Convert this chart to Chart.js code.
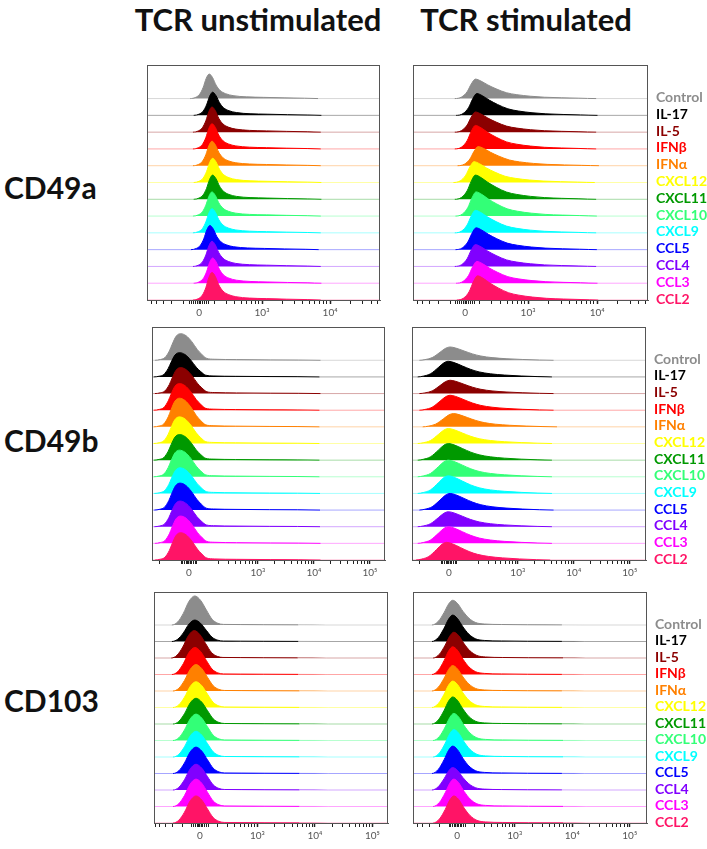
<!DOCTYPE html>
<html>
<head>
<meta charset="utf-8">
<script src="https://cdn.jsdelivr.net/npm/chart.js@4.4.1/dist/chart.umd.min.js"></script>
<style>
  body { margin: 0; background: #fff; width: 707px; height: 849px; position: relative; overflow: hidden; font-family: Lato, 'Open Sans', sans-serif; }
  .title { position: absolute; top: 0px; font-weight: bold; font-size: 31px; color: #111; white-space: nowrap; transform: translateX(-50%); }
  .row { position: absolute; left: 4px; font-weight: bold; font-size: 30px; color: #111; transform: translateY(-50%); }
  canvas { position: absolute; }
</style>
</head>
<body>
<div class="title" style="left:258px">TCR unstimulated</div>
<div class="title" style="left:526px">TCR stimulated</div>
<div class="row" style="top:187px">CD49a</div>
<div class="row" style="top:440px">CD49b</div>
<div class="row" style="top:700px">CD103</div>

<canvas id="c0"></canvas>
<canvas id="c1"></canvas>
<canvas id="c2"></canvas>
<canvas id="c3"></canvas>
<canvas id="c4"></canvas>
<canvas id="c5"></canvas>

<script>
// --- dados ---
const conditions = ['Control', 'IL-17', 'IL-5', 'IFNβ', 'IFNα', 'CXCL12', 'CXCL11', 'CXCL10', 'CXCL9', 'CCL5', 'CCL4', 'CCL3', 'CCL2'];
const conditionColors = ['#8c8c8c', '#000000', '#8b0000', '#ff0000', '#ff8000', '#ffff00', '#009900', '#33ff77', '#00ffff', '#0000ff', '#8000ff', '#ff00ff', '#ff1466'];

const tickLabelsShort = ['0', '10³', '10⁴'];
const tickLabelsLong = ['0', '10³', '10⁴', '10⁵'];

// peak position (display decades) and peak height (row units) for each condition
const cd49aUnstimPeak = [0.15, 0.20, 0.19, 0.19, 0.19, 0.20, 0.20, 0.19, 0.19, 0.16, 0.19, 0.20, 0.19];
const cd49aUnstimHeight = [1.46, 1.38, 1.50, 1.50, 1.46, 1.44, 1.44, 1.44, 1.44, 1.44, 1.50, 1.50, 1.64];
const cd49aStimPeak = [0.15, 0.17, 0.15, 0.15, 0.19, 0.13, 0.15, 0.16, 0.15, 0.16, 0.15, 0.17, 0.18];
const cd49aStimHeight = [1.16, 1.30, 1.20, 1.40, 1.14, 1.24, 1.44, 1.44, 1.34, 1.30, 1.30, 1.30, 1.44];
const cd49bUnstimPeak = [-0.15, -0.17, -0.15, -0.17, -0.17, -0.17, -0.17, -0.17, -0.16, -0.16, -0.16, -0.15, -0.15];
const cd49bUnstimHeight = [1.60, 1.46, 1.56, 1.60, 1.72, 1.60, 1.54, 1.60, 1.54, 1.62, 1.54, 1.64, 1.64];
const cd49bStimPeak = [0.02, -0.01, 0.02, 0.02, 0.08, -0.01, -0.01, -0.01, -0.01, 0.02, -0.01, -0.01, -0.04];
const cd49bStimHeight = [0.80, 0.94, 0.80, 0.90, 0.80, 0.90, 1.00, 1.00, 1.06, 1.00, 0.90, 1.00, 1.06];
const cd103UnstimPeak = [-0.09, -0.09, -0.10, -0.09, -0.07, -0.07, -0.07, -0.07, -0.07, -0.07, -0.07, -0.07, -0.07];
const cd103UnstimHeight = [1.76, 1.30, 1.66, 1.64, 1.60, 1.56, 1.56, 1.60, 1.56, 1.60, 1.56, 1.66, 1.64];
const cd103StimPeak = [-0.08, -0.08, -0.06, -0.08, -0.08, -0.08, -0.08, -0.06, -0.06, -0.08, -0.08, -0.06, -0.06];
const cd103StimHeight = [1.50, 1.60, 1.56, 1.68, 1.54, 1.60, 1.64, 1.64, 1.66, 1.66, 1.36, 1.66, 1.64];

// histogram shape around the peak (offset in decades, fraction of peak height)
const cd49aUnstimShapeX = [-0.28, -0.2, -0.14, -0.09, -0.045, 0, 0.05, 0.1, 0.16, 0.24, 0.35, 0.55, 0.8, 1.1, 1.4, 1.6];
const cd49aUnstimShapeY = [0, 0.05, 0.18, 0.45, 0.82, 1, 0.85, 0.55, 0.33, 0.2, 0.12, 0.07, 0.05, 0.03, 0.015, 0];
const cd49aStimShapeX = [-0.3, -0.2, -0.12, -0.06, 0, 0.08, 0.18, 0.3, 0.45, 0.6, 0.8, 1.0, 1.25, 1.5, 1.75];
const cd49aStimShapeY = [0, 0.08, 0.35, 0.75, 1, 0.9, 0.7, 0.5, 0.3, 0.2, 0.12, 0.07, 0.04, 0.02, 0];
const cd49bUnstimShapeX = [-0.46, -0.36, -0.28, -0.2, -0.15, -0.08, 0, 0.1, 0.2, 0.3, 0.38, 0.47, 0.6, 1.0, 1.6, 2.1, 2.5];
const cd49bUnstimShapeY = [0, 0.03, 0.1, 0.35, 0.6, 0.9, 1, 0.92, 0.7, 0.4, 0.22, 0.07, 0.04, 0.025, 0.015, 0.01, 0];
const cd49bStimShapeX = [-0.55, -0.45, -0.32, -0.18, -0.08, 0, 0.1, 0.25, 0.4, 0.55, 0.75, 1.0, 1.3, 1.6, 1.85];
const cd49bStimShapeY = [0, 0.05, 0.2, 0.6, 0.9, 1, 0.92, 0.7, 0.48, 0.32, 0.2, 0.12, 0.06, 0.02, 0];
const cd103UnstimShapeX = [-0.4, -0.3, -0.2, -0.1, 0, 0.1, 0.2, 0.3, 0.4, 0.5, 0.8, 1.2, 1.8, 2.3];
const cd103UnstimShapeY = [0, 0.1, 0.4, 0.82, 1, 0.85, 0.52, 0.2, 0.06, 0.02, 0.015, 0.01, 0.005, 0];
const cd103StimShapeX = [-0.36, -0.25, -0.15, -0.07, 0, 0.08, 0.18, 0.28, 0.4, 0.55, 0.85, 1.3, 1.9, 2.3];
const cd103StimShapeY = [0, 0.15, 0.5, 0.85, 1, 0.88, 0.55, 0.28, 0.1, 0.04, 0.02, 0.01, 0.005, 0];

// --- painéis: posição do quadro e eixo ---
const panels = [
  { id: 'c0', frame: [147, 65, 380, 300], xmin: -0.765, xmax: 2.66, majors: [0, 0.926, 1.926], labels: tickLabelsShort,
    peak: cd49aUnstimPeak, height: cd49aUnstimHeight, sx: cd49aUnstimShapeX, sy: cd49aUnstimShapeY, legend: false },
  { id: 'c1', frame: [413, 65, 648, 300], xmin: -0.754, xmax: 2.65, majors: [0, 0.913, 1.913], labels: tickLabelsShort,
    peak: cd49aStimPeak, height: cd49aStimHeight, sx: cd49aStimShapeX, sy: cd49aStimShapeY, legend: true },
  { id: 'c2', frame: [152, 327, 385, 560], xmin: -0.66, xmax: 3.5, majors: [0, 1.23, 2.23, 3.23], labels: tickLabelsLong,
    peak: cd49bUnstimPeak, height: cd49bUnstimHeight, sx: cd49bUnstimShapeX, sy: cd49bUnstimShapeY, legend: false },
  { id: 'c3', frame: [412, 327, 646, 560], xmin: -0.66, xmax: 3.52, majors: [0, 1.23, 2.23, 3.23], labels: tickLabelsLong,
    peak: cd49bStimPeak, height: cd49bStimHeight, sx: cd49bStimShapeX, sy: cd49bStimShapeY, legend: true },
  { id: 'c4', frame: [154, 592, 388, 823], xmin: -0.8, xmax: 3.27, majors: [0, 1, 2, 3], labels: tickLabelsLong,
    peak: cd103UnstimPeak, height: cd103UnstimHeight, sx: cd103UnstimShapeX, sy: cd103UnstimShapeY, legend: false },
  { id: 'c5', frame: [413, 592, 647, 823], xmin: -0.77, xmax: 3.3, majors: [0, 1, 2, 3], labels: tickLabelsLong,
    peak: cd103StimPeak, height: cd103StimHeight, sx: cd103StimShapeX, sy: cd103StimShapeY, legend: true },
];

const ROWS = conditions.length;
const YMAX = 14;
const PAD = 2;
const AXIS_H = 26;
const PAGE_W = 707;

function fade(hex, a) {
  const n = parseInt(hex.slice(1), 16);
  return `rgba(${(n >> 16) & 255}, ${(n >> 8) & 255}, ${n & 255}, ${a})`;
}

// ticks menores do eixo biexponencial
function buildTicks(p) {
  const ticks = [];
  const dec = p.majors.length > 2 ? p.majors[2] - p.majors[1] : 1;
  p.majors.forEach((v, i) => ticks.push({ value: v, major: true, label: p.labels[i] }));
  // aglomerado linear perto de 0
  [-0.14, -0.11, -0.08, -0.05, -0.025, 0.025, 0.05, 0.08, 0.11, 0.14].forEach(v => ticks.push({ value: v }));
  // décadas
  for (let d = -1; d < p.majors.length; d++) {
    const start = d < 1 ? p.majors[1] - dec : p.majors[d];
    if (d !== -1 && d < 1) continue;
    for (let k = 2; k <= 9; k++) {
      const v = start + Math.log10(k) * dec;
      if (v > 0.2 && v < p.xmax) ticks.push({ value: v });
      if (d === -1 && -v > p.xmin && v > 0.2) ticks.push({ value: -v });
    }
  }
  return ticks.sort((a, b) => a.value - b.value);
}

const framePlugin = {
  id: 'frame',
  afterDatasetsDraw(chart) {
    const a = chart.chartArea;
    const ctx = chart.ctx;
    ctx.save();
    ctx.strokeStyle = '#555';
    ctx.lineWidth = 1;
    ctx.strokeRect(Math.round(a.left) + 0.5, Math.round(a.top) + 0.5, Math.round(a.width) - 1, Math.round(a.height));
    ctx.restore();
  },
};

const legendPlugin = {
  id: 'sideLabels',
  afterDraw(chart, args, opts) {
    if (!opts.show) return;
    const ctx = chart.ctx;
    const y = chart.scales.y;
    ctx.save();
    ctx.font = 'bold 14px Lato, "Open Sans", sans-serif';
    ctx.textBaseline = 'middle';
    conditions.forEach((name, i) => {
      ctx.fillStyle = conditionColors[i];
      ctx.fillText(name, chart.chartArea.right + 8, y.getPixelForValue(ROWS - 1 - i) - 1);
    });
    ctx.restore();
  },
};

panels.forEach(p => {
  const [l, t, r, b] = p.frame;
  const canvas = document.getElementById(p.id);
  const rightPad = p.legend ? PAGE_W - r : PAD;
  const w = (r - l) + PAD + rightPad;
  const h = (b - t) + PAD + AXIS_H;
  canvas.width = w;
  canvas.height = h;
  canvas.style.left = (l - PAD) + 'px';
  canvas.style.top = (t - PAD) + 'px';

  const datasets = conditions.map((name, i) => {
    const base = ROWS - 1 - i;
    const pts = [{ x: p.xmin, y: base }];
    p.sx.forEach((dx, k) => pts.push({ x: p.peak[i] + dx, y: base + p.height[i] * p.sy[k] }));
    pts.push({ x: p.xmax, y: base });
    const flat = fade(conditionColors[i], 0.35);
    return {
      label: name,
      data: pts,
      borderColor: conditionColors[i],
      backgroundColor: conditionColors[i],
      borderWidth: 1,
      pointRadius: 0,
      cubicInterpolationMode: 'monotone',
      fill: { value: base },
      segment: {
        borderColor: (c) => (c.p0.parsed.y - base < 0.01 && c.p1.parsed.y - base < 0.01 ? flat : undefined),
      },
      order: i === 0 ? ROWS : ROWS - 1 - i,
    };
  });

  const ticks = buildTicks(p);

  new Chart(canvas, {
    type: 'line',
    data: { datasets },
    options: {
      responsive: false,
      animation: false,
      devicePixelRatio: 1,
      layout: { padding: { left: PAD, right: rightPad, top: PAD, bottom: 0 } },
      scales: {
        x: {
          type: 'linear',
          min: p.xmin,
          max: p.xmax,
          afterBuildTicks: (scale) => { scale.ticks = ticks.map(tk => ({ value: tk.value, major: !!tk.major, label: tk.label })); },
          afterFit: (scale) => { scale.height = AXIS_H; },
          border: { display: true, color: '#555' },
          grid: {
            drawOnChartArea: false,
            drawTicks: true,
            tickLength: 4,
            tickColor: '#222',
            tickWidth: (c) => (c.tick && c.tick.major ? 1.5 : 1),
          },
          ticks: {
            autoSkip: false,
            maxRotation: 0,
            padding: 3,
            color: '#555',
            font: { size: 10, family: 'Lato, "Open Sans", sans-serif' },
            callback: function (value, index, values) { return values[index].label || ''; },
          },
        },
        y: { display: false, min: 0, max: YMAX },
      },
      plugins: {
        legend: { display: false },
        tooltip: { enabled: false },
        sideLabels: { show: p.legend },
      },
    },
    plugins: [framePlugin, legendPlugin],
  });
});
</script>
</body>
</html>
